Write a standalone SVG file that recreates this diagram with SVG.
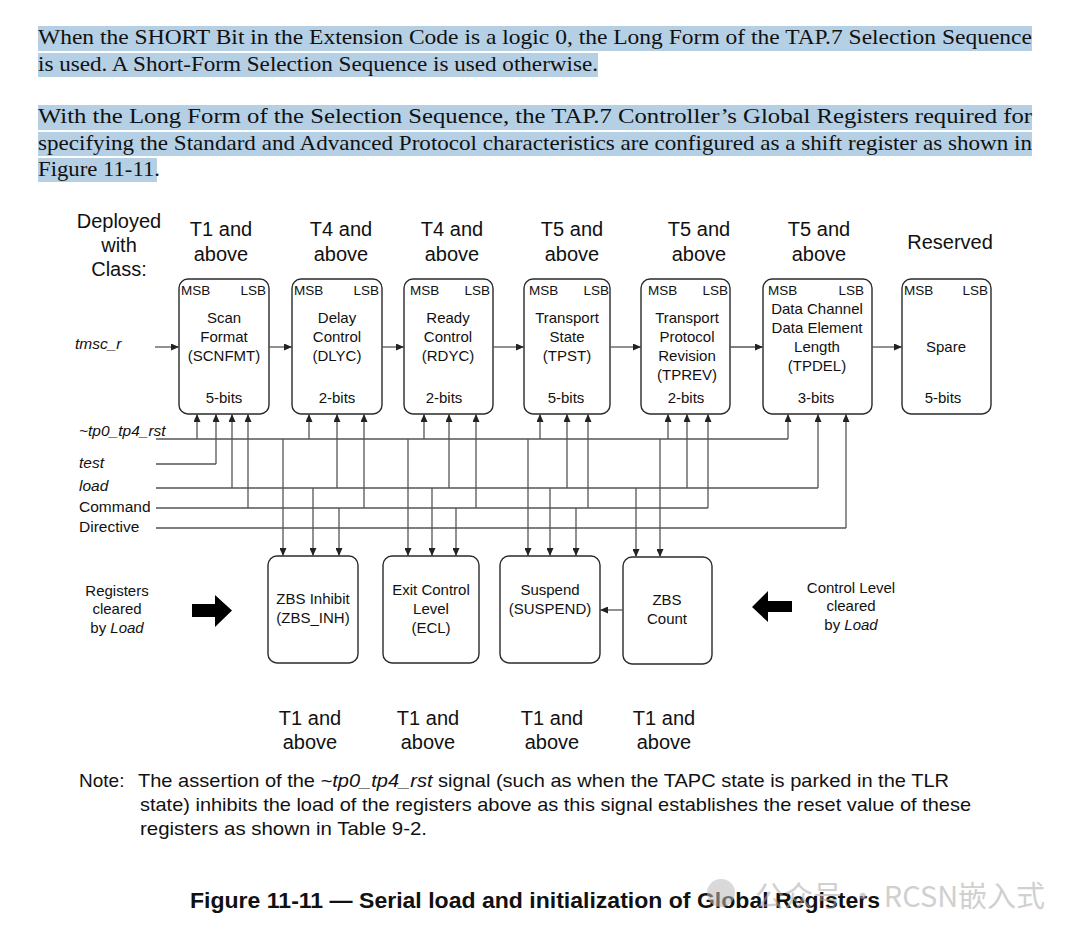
<svg xmlns="http://www.w3.org/2000/svg" width="1080" height="939" viewBox="0 0 1080 939">
<defs>
<marker id="ah" markerWidth="8" markerHeight="7" refX="8" refY="3.5" orient="auto" markerUnits="userSpaceOnUse"><path d="M0,0 L8,3.5 L0,7 z" fill="#222"/></marker>
<style>
.para{font-family:"Liberation Serif",serif;font-size:21px;fill:#111}
.hl{fill:#b5d0e5}
.hdr{font-family:"Liberation Sans",Arial,sans-serif;font-size:20px;fill:#111;text-anchor:middle}
.box{fill:#fff;stroke:#2a2a2a;stroke-width:1.4}
.bt{font-family:"Liberation Sans",Arial,sans-serif;font-size:15px;fill:#111;text-anchor:middle}
.ms{font-family:"Liberation Sans",Arial,sans-serif;font-size:13.5px;fill:#111}
.sig{font-family:"Liberation Sans",Arial,sans-serif;font-size:15.5px;fill:#111}
.it{font-style:italic}
.w{fill:none;stroke:#555;stroke-width:1.3}
.wa{fill:none;stroke:#555;stroke-width:1.3;marker-end:url(#ah)}
.note{font-family:"Liberation Sans",Arial,sans-serif;font-size:19px;fill:#111}
.cap{font-family:"Liberation Sans",Arial,sans-serif;font-size:22px;font-weight:bold;fill:#111}
.big{fill:#000}
</style>
</defs>
<rect width="1080" height="939" fill="#fff"/>

<g id="paragraph">
<rect class="hl" x="38" y="26" width="994" height="25"/>
<rect class="hl" x="38" y="53" width="560" height="24"/>
<rect class="hl" x="38" y="105" width="994" height="25"/>
<rect class="hl" x="38" y="132" width="994" height="24"/>
<rect class="hl" x="38" y="158" width="119" height="24"/>
<text class="para" x="38" y="44" textLength="994" lengthAdjust="spacingAndGlyphs">When the SHORT Bit in the Extension Code is a logic 0, the Long Form of the TAP.7 Selection Sequence</text>
<text class="para" x="38" y="71" textLength="560" lengthAdjust="spacingAndGlyphs">is used. A Short-Form Selection Sequence is used otherwise.</text>
<text class="para" x="38" y="123" textLength="994" lengthAdjust="spacingAndGlyphs">With the Long Form of the Selection Sequence, the TAP.7 Controller’s Global Registers required for</text>
<text class="para" x="38" y="150" textLength="994" lengthAdjust="spacingAndGlyphs">specifying the Standard and Advanced Protocol characteristics are configured as a shift register as shown in</text>
<text class="para" x="38" y="176" textLength="122" lengthAdjust="spacingAndGlyphs">Figure 11-11.</text>
</g>

<g id="class-labels">
<text class="hdr" x="119" y="228">Deployed</text>
<text class="hdr" x="119" y="252">with</text>
<text class="hdr" x="119" y="276">Class:</text>
<text class="hdr" x="221" y="236">T1 and</text><text class="hdr" x="221" y="261">above</text>
<text class="hdr" x="341" y="236">T4 and</text><text class="hdr" x="341" y="261">above</text>
<text class="hdr" x="452" y="236">T4 and</text><text class="hdr" x="452" y="261">above</text>
<text class="hdr" x="572" y="236">T5 and</text><text class="hdr" x="572" y="261">above</text>
<text class="hdr" x="699" y="236">T5 and</text><text class="hdr" x="699" y="261">above</text>
<text class="hdr" x="819" y="236">T5 and</text><text class="hdr" x="819" y="261">above</text>
<text class="hdr" x="950" y="249">Reserved</text>
</g>

<g id="scnfmt">
<rect class="box" x="179" y="279" width="90" height="135" rx="9"/>
<text class="ms" x="181" y="295">MSB</text><text class="ms" x="266" y="295" text-anchor="end">LSB</text>
<text class="bt" x="224" y="323">Scan</text><text class="bt" x="224" y="342">Format</text><text class="bt" x="224" y="361">(SCNFMT)</text>
<text class="bt" x="224" y="403">5-bits</text>
</g>
<g id="dlyc">
<rect class="box" x="292" y="279" width="90" height="135" rx="9"/>
<text class="ms" x="294" y="295">MSB</text><text class="ms" x="379" y="295" text-anchor="end">LSB</text>
<text class="bt" x="337" y="323">Delay</text><text class="bt" x="337" y="342">Control</text><text class="bt" x="337" y="361">(DLYC)</text>
<text class="bt" x="337" y="403">2-bits</text>
</g>
<g id="rdyc">
<rect class="box" x="404" y="279" width="89" height="135" rx="9"/>
<text class="ms" x="410" y="295">MSB</text><text class="ms" x="490" y="295" text-anchor="end">LSB</text>
<text class="bt" x="448" y="323">Ready</text><text class="bt" x="448" y="342">Control</text><text class="bt" x="448" y="361">(RDYC)</text>
<text class="bt" x="444" y="403">2-bits</text>
</g>
<g id="tpst">
<rect class="box" x="524" y="279" width="86" height="135" rx="9"/>
<text class="ms" x="529" y="295">MSB</text><text class="ms" x="609" y="295" text-anchor="end">LSB</text>
<text class="bt" x="567" y="323">Transport</text><text class="bt" x="567" y="342">State</text><text class="bt" x="567" y="361">(TPST)</text>
<text class="bt" x="566" y="403">5-bits</text>
</g>
<g id="tprev">
<rect class="box" x="641" y="279" width="89" height="135" rx="9"/>
<text class="ms" x="648" y="295">MSB</text><text class="ms" x="728" y="295" text-anchor="end">LSB</text>
<text class="bt" x="687" y="323">Transport</text><text class="bt" x="687" y="342">Protocol</text><text class="bt" x="687" y="361">Revision</text><text class="bt" x="687" y="380">(TPREV)</text>
<text class="bt" x="686" y="403">2-bits</text>
</g>
<g id="tpdel">
<rect class="box" x="763" y="279" width="109" height="135" rx="9"/>
<text class="ms" x="768" y="295">MSB</text><text class="ms" x="864" y="295" text-anchor="end">LSB</text>
<text class="bt" x="817" y="314">Data Channel</text><text class="bt" x="817" y="333">Data Element</text><text class="bt" x="817" y="352">Length</text><text class="bt" x="817" y="371">(TPDEL)</text>
<text class="bt" x="816" y="403">3-bits</text>
</g>
<g id="spare">
<rect class="box" x="902" y="279" width="89" height="135" rx="9"/>
<text class="ms" x="904" y="295">MSB</text><text class="ms" x="988" y="295" text-anchor="end">LSB</text>
<text class="bt" x="946" y="352">Spare</text>
<text class="bt" x="943" y="403">5-bits</text>
</g>

<g id="signal-labels">
<text class="sig it" x="75" y="349">tmsc_r</text>
<text class="sig it" x="79" y="436">~tp0_tp4_rst</text>
<text class="sig it" x="79" y="468">test</text>
<text class="sig it" x="79" y="491">load</text>
<text class="sig" x="79" y="512">Command</text>
<text class="sig" x="79" y="532">Directive</text>
</g>

<g id="zbs-inh">
<rect class="box" x="268" y="556" width="90" height="107" rx="9"/>
<text class="bt" x="313" y="604">ZBS Inhibit</text><text class="bt" x="313" y="623">(ZBS_INH)</text>
</g>
<g id="ecl">
<rect class="box" x="383" y="556" width="96" height="107" rx="9"/>
<text class="bt" x="431" y="595">Exit Control</text><text class="bt" x="431" y="614">Level</text><text class="bt" x="431" y="633">(ECL)</text>
</g>
<g id="suspend">
<rect class="box" x="500" y="556" width="100" height="107" rx="9"/>
<text class="bt" x="550" y="595">Suspend</text><text class="bt" x="550" y="614">(SUSPEND)</text>
</g>
<g id="zbs-count">
<rect class="box" x="623" y="557" width="89" height="107" rx="9"/>
<text class="bt" x="667" y="605">ZBS</text><text class="bt" x="667" y="624">Count</text>
</g>

<g id="cleared-notes">
<text class="bt" x="117" y="596">Registers</text>
<text class="bt" x="117" y="614">cleared</text>
<text class="bt" x="117" y="633">by <tspan class="it">Load</tspan></text>
<path class="big" d="M192,604 H215 V595 L232,610.5 L215,627 V617 H192 Z"/>
<path class="big" d="M792,601 H768 V591 L752,607 L768,622 V612 H792 Z"/>
<text class="bt" x="851" y="593">Control Level</text>
<text class="bt" x="851" y="611">cleared</text>
<text class="bt" x="851" y="630">by <tspan class="it">Load</tspan></text>
</g>

<g id="connectors">
<path class="wa" d="M155,347 H179"/>
<path class="wa" d="M269,347 H292"/>
<path class="wa" d="M382,347 H404"/>
<path class="wa" d="M493,347 H524"/>
<path class="wa" d="M610,347 H641"/>
<path class="wa" d="M730,347 H763"/>
<path class="wa" d="M872,347 H902"/>

<path class="w" d="M156,439 H788"/>
<path class="w" d="M156,464 H216"/>
<path class="w" d="M156,488 H818"/>
<path class="w" d="M156,508 H708"/>
<path class="w" d="M156,528 H846"/>

<path class="wa" d="M197,439 V414"/>
<path class="wa" d="M216,464 V414"/>
<path class="wa" d="M232,488 V414"/>
<path class="wa" d="M248,508 V414"/>
<path class="wa" d="M309,439 V414"/>
<path class="wa" d="M337,488 V414"/>
<path class="wa" d="M364,508 V414"/>
<path class="wa" d="M424,439 V414"/>
<path class="wa" d="M449,488 V414"/>
<path class="wa" d="M476,508 V414"/>
<path class="wa" d="M540,439 V414"/>
<path class="wa" d="M567,488 V414"/>
<path class="wa" d="M588,508 V414"/>
<path class="wa" d="M668,439 V414"/>
<path class="wa" d="M687,488 V414"/>
<path class="wa" d="M708,508 V414"/>
<path class="wa" d="M788,439 V414"/>
<path class="wa" d="M818,488 V414"/>
<path class="wa" d="M846,528 V414"/>

<path class="wa" d="M283,439 V556"/>
<path class="wa" d="M313,488 V556"/>
<path class="wa" d="M339,508 V556"/>
<path class="wa" d="M408,439 V556"/>
<path class="wa" d="M432,488 V556"/>
<path class="wa" d="M456,508 V556"/>
<path class="wa" d="M528,439 V556"/>
<path class="wa" d="M550,488 V556"/>
<path class="wa" d="M576,508 V556"/>
<path class="wa" d="M636,488 V557"/>
<path class="wa" d="M660,439 V557"/>

<path class="wa" d="M623,610 H600"/>
</g>

<g id="bottom-labels">
<text class="hdr" x="310" y="725">T1 and</text><text class="hdr" x="310" y="749">above</text>
<text class="hdr" x="428" y="725">T1 and</text><text class="hdr" x="428" y="749">above</text>
<text class="hdr" x="552" y="725">T1 and</text><text class="hdr" x="552" y="749">above</text>
<text class="hdr" x="664" y="725">T1 and</text><text class="hdr" x="664" y="749">above</text>
</g>

<g id="note">
<text class="note" x="79" y="787">Note:</text>
<text class="note" x="138" y="787" textLength="811" lengthAdjust="spacingAndGlyphs">The assertion of the <tspan class="it">~tp0_tp4_rst</tspan> signal (such as when the TAPC state is parked in the TLR</text>
<text class="note" x="140" y="811" textLength="831" lengthAdjust="spacingAndGlyphs">state) inhibits the load of the registers above as this signal establishes the reset value of these</text>
<text class="note" x="140" y="835" textLength="287" lengthAdjust="spacingAndGlyphs">registers as shown in  Table 9-2.</text>
</g>

<g id="caption">
<text class="cap" x="190" y="908" textLength="690" lengthAdjust="spacingAndGlyphs">Figure 11-11 — Serial load and initialization of Global Registers</text>
</g>

<g id="watermark" opacity="0.55">
<circle cx="721" cy="893" r="14" fill="#bbb"/>
<text x="755" y="907" font-family="Noto Sans CJK SC, sans-serif" font-size="29" fill="#aaa" textLength="290" lengthAdjust="spacingAndGlyphs">公众号 · RCSN嵌入式</text>
</g>
</svg>
